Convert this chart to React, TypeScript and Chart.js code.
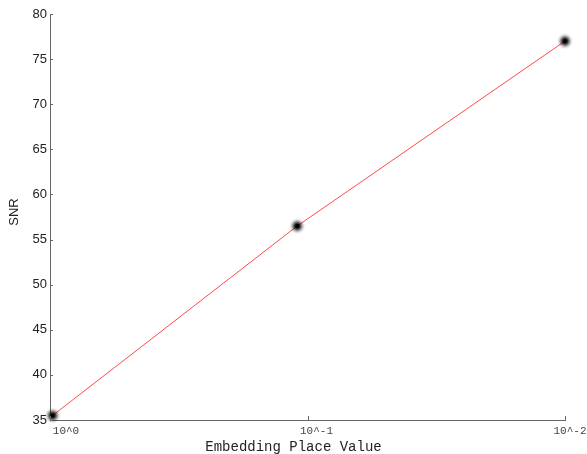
import React, { useEffect, useRef } from "react";
import { Chart, registerables } from "chart.js";

Chart.register(...registerables);

const xTickValues = [0, 1, 2];
const xTickLabels = ["10^0", "10^-1", "10^-2"];
const pointX = [0.01, 0.96, 2.0];
const snrValues = [35.5, 56.5, 77.0];
const yMin = 35;
const yMax = 80;
const yStep = 5;
const xTitle = "Embedding Place Value";
const yTitle = "SNR";

function makeDot(): HTMLCanvasElement {
  const c = document.createElement("canvas");
  c.width = 18;
  c.height = 18;
  const g = c.getContext("2d")!;
  const grad = g.createRadialGradient(9, 9, 0, 9, 9, 8);
  grad.addColorStop(0, "rgba(0,0,0,1)");
  grad.addColorStop(0.22, "rgba(0,0,0,1)");
  grad.addColorStop(0.45, "rgba(0,0,0,0.6)");
  grad.addColorStop(0.75, "rgba(0,0,0,0.15)");
  grad.addColorStop(1, "rgba(0,0,0,0)");
  g.fillStyle = grad;
  g.fillRect(0, 0, 18, 18);
  return c;
}

const decorPlugin = {
  id: "decor",
  afterDraw(chart: any) {
    const { ctx, chartArea, scales } = chart;
    const xs = scales.x;
    const ys = scales.y;
    ctx.save();
    ctx.strokeStyle = "#666";
    ctx.lineWidth = 1;
    for (let v = yMin; v <= yMax; v += yStep) {
      const y = Math.round(ys.getPixelForValue(v)) + 0.5;
      ctx.beginPath();
      ctx.moveTo(chartArea.left, y);
      ctx.lineTo(chartArea.left + 3, y);
      ctx.stroke();
    }
    xTickValues.forEach((v) => {
      const x = Math.round(xs.getPixelForValue(v)) + 0.5;
      ctx.beginPath();
      ctx.moveTo(x, chartArea.bottom);
      ctx.lineTo(x, chartArea.bottom - 4);
      ctx.stroke();
    });
    const dx = [16, 9, 5];
    ctx.font = '11px "Liberation Mono", monospace';
    ctx.fillStyle = "#444";
    ctx.textAlign = "center";
    ctx.textBaseline = "middle";
    xTickValues.forEach((v, i) => {
      ctx.fillText(xTickLabels[i], xs.getPixelForValue(v) + dx[i], chartArea.bottom + 11);
    });
    ctx.font = '14px "Liberation Mono", monospace';
    ctx.fillStyle = "#222";
    ctx.fillText(xTitle, (chartArea.left + chartArea.right) / 2 - 14, chartArea.bottom + 27);
    ctx.translate(14, (chartArea.top + chartArea.bottom) / 2 - 5);
    ctx.rotate(-Math.PI / 2);
    ctx.font = '13px "Liberation Sans", Arial, sans-serif';
    ctx.fillStyle = "#222";
    ctx.fillText(yTitle, 0, 0);
    ctx.restore();
  },
};

export default function App() {
  const ref = useRef<HTMLCanvasElement>(null);
  useEffect(() => {
    const dot = makeDot();
    const chart = new Chart(ref.current!, {
      type: "line",
      data: {
        datasets: [
          {
            data: pointX.map((x, i) => ({ x, y: snrValues[i] })),
            borderColor: "#ff4a4a",
            borderWidth: 1,
            pointStyle: dot as any,
            pointRadius: 6,
            pointHoverRadius: 6,
            clip: false as any,
            fill: false,
            tension: 0,
          },
        ],
      },
      options: {
        animation: false,
        responsive: false,
        events: [],
        layout: { padding: { top: 14, right: 22, left: 0, bottom: 0 } },
        plugins: { legend: { display: false }, tooltip: { enabled: false } },
        scales: {
          x: {
            type: "linear",
            min: 0,
            max: 2,
            grid: { display: false, drawTicks: false },
            border: { display: true, color: "#666", width: 1 },
            ticks: { display: false },
            afterFit: (s: any) => {
              s.height = 34;
            },
          },
          y: {
            type: "linear",
            min: yMin,
            max: yMax,
            grid: { display: false, drawTicks: false },
            border: { display: true, color: "#666", width: 1 },
            ticks: {
              stepSize: yStep,
              padding: 3,
              color: "#222",
              font: { family: '"Liberation Sans", Arial, sans-serif', size: 13 },
            },
            afterFit: (s: any) => {
              s.width = 50;
            },
          },
        },
      },
      plugins: [decorPlugin],
    });
    return () => chart.destroy();
  }, []);
  return (
    <div style={{ position: "fixed", left: 0, top: 0, width: 587, height: 454, background: "#fff" }}>
      <canvas ref={ref} width={587} height={454} style={{ width: 587, height: 454, display: "block" }} />
    </div>
  );
}
